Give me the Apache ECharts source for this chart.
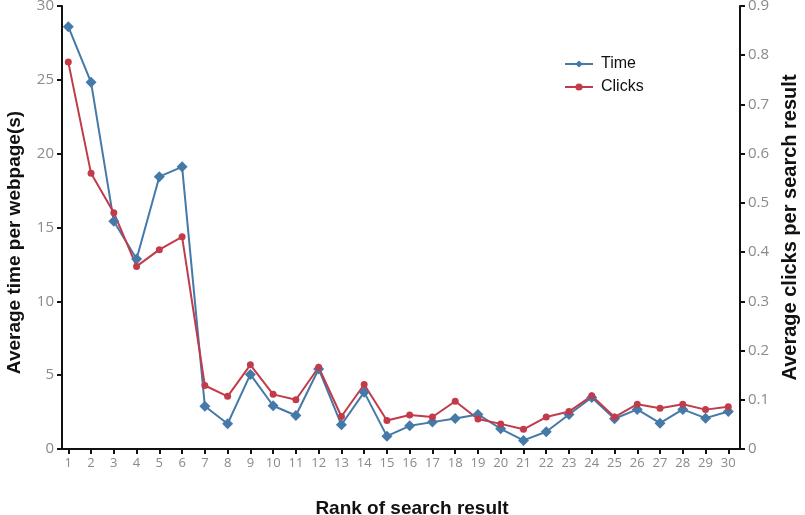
<!DOCTYPE html>
<html>
<head>
<meta charset="utf-8">
<script src="https://cdn.jsdelivr.net/npm/echarts@6/dist/echarts.min.js"></script>
<style>
html,body{margin:0;padding:0;background:#fff;}
#chart{width:805px;height:515px;}
</style>
</head>
<body>
<div id="chart"></div>
<script>
// rank of search result 1..30
var ranks = [1,2,3,4,5,6,7,8,9,10,11,12,13,14,15,16,17,18,19,20,21,22,23,24,25,26,27,28,29,30];
// average time per webpage (s)
var timeVals = [28.6,24.83,15.42,12.87,18.44,19.11,2.9,1.71,5.05,2.93,2.27,5.42,1.64,3.85,0.87,1.57,1.82,2.07,2.34,1.37,0.58,1.17,2.34,3.49,2.05,2.68,1.75,2.68,2.09,2.54];
// average clicks per search result
var clickVals = [0.786,0.56,0.48,0.371,0.405,0.431,0.129,0.107,0.171,0.111,0.1,0.166,0.066,0.131,0.058,0.069,0.065,0.097,0.061,0.051,0.04,0.065,0.076,0.108,0.065,0.091,0.083,0.091,0.08,0.086];
var timeTicks = [0,5,10,15,20,25,30];
var clickTicks = [0,0.1,0.2,0.3,0.4,0.5,0.6,0.7,0.8,0.9];

var blue = '#4479a8';
var red = '#c23b4a';

function pairs(xs, ys){
  var out = [];
  for (var i = 0; i < xs.length; i++) out.push([xs[i], ys[i]]);
  return out;
}

var myChart = echarts.init(document.getElementById('chart'));
var labelStyle = {color:'#8a8a8a', fontSize:15, fontFamily:'Open Sans'};
var option = {
  animation:false,
  grid:{left:62, right:65, top:6, bottom:66, containLabel:false, outerBoundsMode:'none'},
  legend:{
    orient:'vertical',
    left:559, top:51,
    itemWidth:28, itemHeight:9, itemGap:7,
    textStyle:{color:'#111', fontSize:16, fontFamily:'Liberation Sans', padding:[0,0,0,3]},
    data:['Time','Clicks']
  },
  xAxis:{
    type:'value',
    min:0.723, max:30.514,
    name:'Rank of search result',
    nameLocation:'middle',
    nameGap:50,
    nameTextStyle:{color:'#111', fontSize:19, fontWeight:'bold', fontFamily:'Liberation Sans', padding:[0,0,0,22]},
    axisLine:{lineStyle:{color:'#111', width:2}},
    axisTick:{show:true, length:5, lineStyle:{color:'#111', width:2}, customValues:ranks},
    axisLabel:{color:'#8a8a8a', fontSize:13, fontFamily:'Open Sans', margin:8, customValues:ranks},
    splitLine:{show:false}
  },
  yAxis:[
    {
      type:'value',
      min:0, max:30, interval:5,
      name:'Average time per webpage(s)',
      nameLocation:'middle',
      nameRotate:90,
      nameGap:38,
      nameTextStyle:{color:'#111', fontSize:19, fontWeight:'bold', fontFamily:'Liberation Sans', padding:[0,30,0,0]},
      axisLine:{show:true, lineStyle:{color:'#111', width:2}},
      axisTick:{show:true, length:5, lineStyle:{color:'#111', width:2}, customValues:timeTicks},
      axisLabel:Object.assign({margin:8, customValues:timeTicks}, labelStyle),
      splitLine:{show:false}
    },
    {
      type:'value',
      min:0, max:0.9, interval:0.1,
      name:'Average clicks per search result',
      nameLocation:'middle',
      nameRotate:90,
      nameGap:38,
      nameTextStyle:{color:'#111', fontSize:20, fontWeight:'bold', fontFamily:'Liberation Sans'},
      axisLine:{show:true, lineStyle:{color:'#111', width:2}},
      axisTick:{show:true, length:5, lineStyle:{color:'#111', width:2}, customValues:clickTicks},
      axisLabel:Object.assign({
        margin:8, customValues:clickTicks,
        formatter:function(v){ return v === 0 ? '0' : v.toFixed(1); }
      }, labelStyle),
      splitLine:{show:false}
    }
  ],
  series:[
    {
      name:'Time',
      type:'line',
      yAxisIndex:0,
      data:pairs(ranks, timeVals),
      symbol:'diamond',
      symbolSize:11,
      lineStyle:{color:blue, width:2},
      itemStyle:{color:blue}
    },
    {
      name:'Clicks',
      type:'line',
      yAxisIndex:1,
      data:pairs(ranks, clickVals),
      symbol:'circle',
      symbolSize:7,
      lineStyle:{color:red, width:2},
      itemStyle:{color:red}
    }
  ]
};
myChart.setOption(option);
</script>
</body>
</html>
